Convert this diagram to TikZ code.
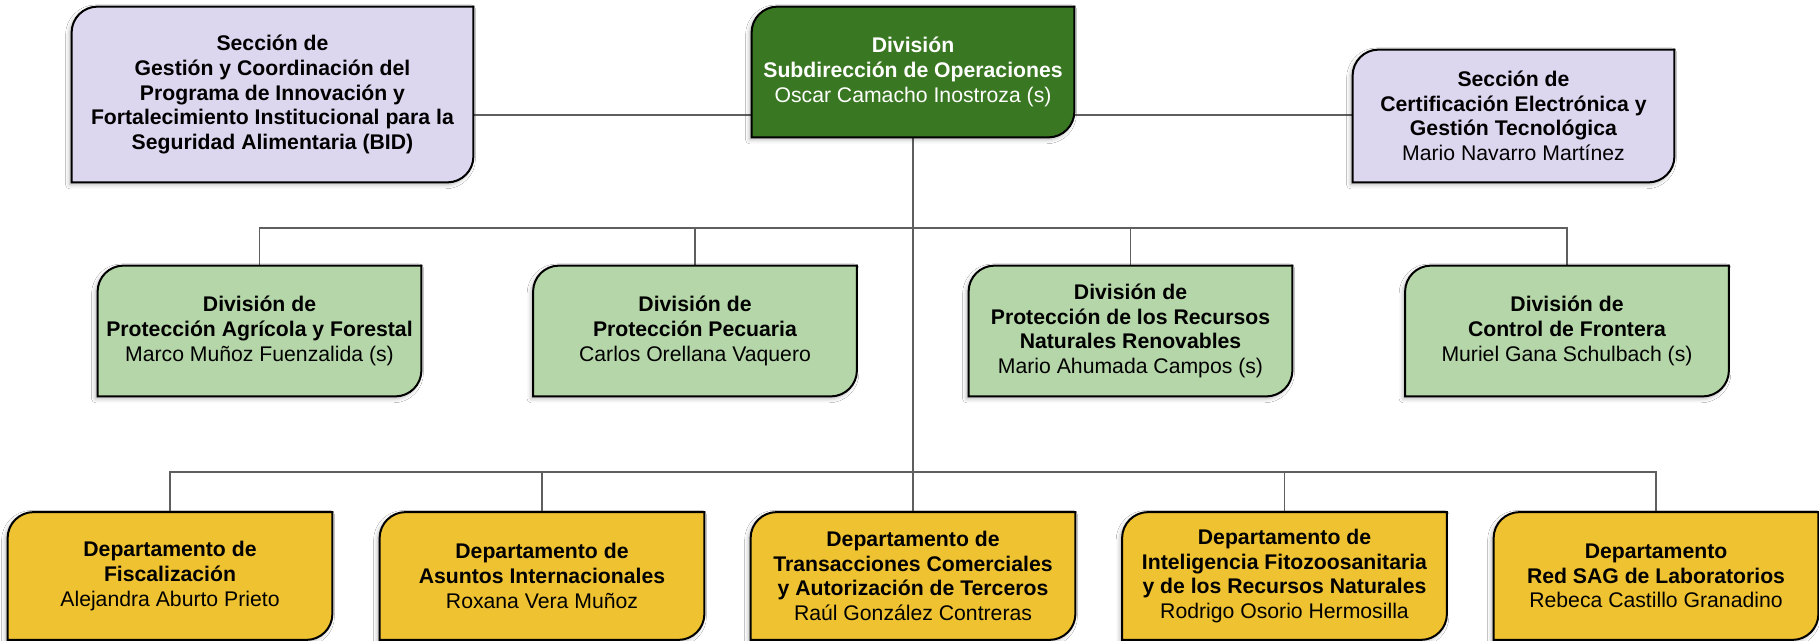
\documentclass[tikz,border=0pt]{standalone}
\usepackage{fontspec}
\setmainfont{Liberation Sans}
\usepackage{xcolor}
\usepackage{tikz}
\usetikzlibrary{backgrounds}
\usetikzlibrary{shadows.blur}
\definecolor{secfill}{HTML}{DDD6EF}
\definecolor{subfill}{HTML}{3A7722}
\definecolor{divfill}{HTML}{B5D6A8}
\definecolor{depfill}{HTML}{EFC232}
\definecolor{linegray}{HTML}{5F5F5F}
\newcommand\boxrad{13pt}
\newcommand\ttl[1]{\textbf{#1}}
\tikzstyle{orgbox}=[align=center,inner sep=0pt,font=\fontsize{10.6}{12.3}\selectfont]
\tikzstyle{divbox}=[orgbox,minimum width=161.5pt,minimum height=65pt]
\tikzstyle{depbox}=[orgbox,minimum width=162pt,minimum height=63.5pt]
\tikzstyle{link}=[draw=linegray,line width=.8pt]
\tikzstyle{boxline}=[draw=black,line width=1pt,
  blur shadow={shadow xshift=-1pt,shadow yshift=-1.2pt,shadow blur radius=2pt,shadow opacity=30}]

\begin{document}
\begin{tikzpicture}[x=.5pt,y=.5pt]
	\useasboundingbox (0,0) rectangle (1819,641);
	% top row
	\node[orgbox,minimum width=200.5pt,minimum height=87.5pt] (sec) at (272.5,546.5)
	  {\ttl{Sección de}\\ \ttl{Gestión y Coordinación del}\\ \ttl{Programa de Innovación y}\\
	   \ttl{Fortalecimiento Institucional para la}\\ \ttl{Seguridad Alimentaria (BID)}};
	\node[orgbox,minimum width=161pt,minimum height=65pt,text=white] (sub) at (913,569)
	  {\ttl{División}\\ \ttl{Subdirección de Operaciones}\\ Oscar Camacho Inostroza (s)};
	\node[orgbox,minimum width=160.5pt,minimum height=66pt] (cert) at (1513.5,525)
	  {\ttl{Sección de}\\ \ttl{Certificación Electrónica y}\\ \ttl{Gestión Tecnológica}\\ Mario Navarro Martínez};
	% divisions
	\node[divbox] (pav) at (259.5,310)
	  {\ttl{División de}\\ \ttl{Protección Agrícola y Forestal}\\ Marco Muñoz Fuenzalida (s)};
	\node[divbox] (pec) at (695,310)
	  {\ttl{División de}\\ \ttl{Protección Pecuaria}\\ Carlos Orellana Vaquero};
	\node[divbox] (rnr) at (1130.5,310)
	  {\ttl{División de}\\ \ttl{Protección de los Recursos}\\ \ttl{Naturales Renovables}\\ Mario Ahumada Campos (s)};
	\node[divbox] (fro) at (1567,310)
	  {\ttl{División de}\\ \ttl{Control de Frontera}\\ Muriel Gana Schulbach (s)};
	% departments
	\node[depbox] (fis) at (170,65)
	  {\ttl{Departamento de}\\ \ttl{Fiscalización}\\ Alejandra Aburto Prieto};
	\node[depbox] (ain) at (542,65)
	  {\ttl{Departamento de}\\ \ttl{Asuntos Internacionales}\\ Roxana Vera Muñoz};
	\node[depbox] (tra) at (913,65)
	  {\ttl{Departamento de}\\ \ttl{Transacciones Comerciales}\\ \ttl{y Autorización de Terceros}\\ Raúl González Contreras};
	\node[depbox] (int) at (1284.5,65)
	  {\ttl{Departamento de}\\ \ttl{Inteligencia Fitozoosanitaria}\\ \ttl{y de los Recursos Naturales}\\ Rodrigo Osorio Hermosilla};
	\node[depbox] (lab) at (1656,65)
	  {\ttl{Departamento}\\ \ttl{Red SAG de Laboratorios}\\ Rebeca Castillo Granadino};
	\coordinate (topbus) at (913,526);
	\coordinate (divbus) at (913,413);
	\coordinate (depbus) at (913,169);
	\begin{scope}[on background layer]
	  \fill[white] (0,0) rectangle (1819,641);
	  \draw[link] (sec.east |- topbus) -- (cert.west |- topbus);
	  \draw[link] (sub.south) -- (tra.north);
	  \draw[link] (pav.north) -- (pav.north |- divbus) -- (fro.north |- divbus) -- (fro.north);
	  \draw[link] (fis.north) -- (fis.north |- depbus) -- (lab.north |- depbus) -- (lab.north);
	  \foreach \n/\m in {pec/divbus,rnr/divbus,ain/depbus,int/depbus}
	    \draw[link] (\n.north) -- (\n.north |- \m);
	\end{scope}
	\begin{scope}[on background layer,x=1pt,y=1pt]
	  \foreach \n/\c in {sec/secfill,sub/subfill,cert/secfill,pav/divfill,pec/divfill,rnr/divfill,
	                     fro/divfill,fis/depfill,ain/depfill,tra/depfill,int/depfill,lab/depfill}
	    \draw[boxline,fill=\c] (\n.south west) -- ([yshift=-\boxrad]\n.north west)
	      arc[start angle=180,end angle=90,radius=\boxrad] -- (\n.north east)
	      -- ([yshift=\boxrad]\n.south east) arc[start angle=0,end angle=-90,radius=\boxrad] -- cycle;
	\end{scope}
\end{tikzpicture}
\end{document}
